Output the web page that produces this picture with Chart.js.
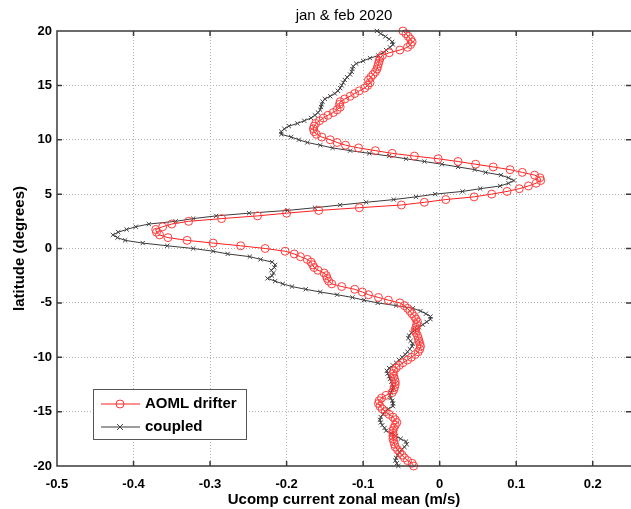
<!doctype html>
<html lang="en">
<head>
	<meta charset="utf-8">
	<title>jan &amp; feb 2020</title>
	<style>
		html, body { margin: 0; padding: 0; background: #fff; }
	</style>
</head>
<body>
	<canvas id="zonalMeanChart" width="631" height="509"></canvas>
	<script src="https://cdn.jsdelivr.net/npm/chart.js@4.4.1/dist/chart.umd.min.js"></script>
	<script>
		// latitude of each profile point, top to bottom (one row per degree)
		var latitude = [
			20, 19.75, 19.5, 19.25,   19, 18.75, 18.5, 18.25,   18, 17.75, 17.5, 17.25,
			17, 16.75, 16.5, 16.25,   16, 15.75, 15.5, 15.25,   15, 14.75, 14.5, 14.25,
			14, 13.75, 13.5, 13.25,   13, 12.75, 12.5, 12.25,   12, 11.75, 11.5, 11.25,
			11, 10.75, 10.5, 10.25,   10, 9.75, 9.5, 9.25,      9, 8.75, 8.5, 8.25,
			8, 7.75, 7.5, 7.25,       7, 6.75, 6.5, 6.25,       6, 5.75, 5.5, 5.25,
			5, 4.75, 4.5, 4.25,       4, 3.75, 3.5, 3.25,       3, 2.75, 2.5, 2.25,
			2, 1.75, 1.5, 1.25,       1, 0.75, 0.5, 0.25,       0, -0.25, -0.5, -0.75,
			-1, -1.25, -1.5, -1.75,   -2, -2.25, -2.5, -2.75,   -3, -3.25, -3.5, -3.75,
			-4, -4.25, -4.5, -4.75,   -5, -5.25, -5.5, -5.75,   -6, -6.25, -6.5, -6.75,
			-7, -7.25, -7.5, -7.75,   -8, -8.25, -8.5, -8.75,   -9, -9.25, -9.5, -9.75,
			-10, -10.25, -10.5, -10.75, -11, -11.25, -11.5, -11.75, -12, -12.25, -12.5, -12.75,
			-13, -13.25, -13.5, -13.75, -14, -14.25, -14.5, -14.75, -15, -15.25, -15.5, -15.75,
			-16, -16.25, -16.5, -16.75, -17, -17.25, -17.5, -17.75, -18, -18.25, -18.5, -18.75,
			-19, -19.25, -19.5, -19.75, -20
		];

		// AOML drifter zonal mean (m/s)
		var aomlDrifter = [
			-0.048, -0.044, -0.041, -0.038,   -0.036, -0.038, -0.042, -0.052,   -0.066, -0.075, -0.078, -0.079,
			-0.080, -0.081, -0.082, -0.084,   -0.087, -0.090, -0.093, -0.091,   -0.094, -0.098, -0.105, -0.111,
			-0.117, -0.124, -0.130, -0.131,   -0.130, -0.134, -0.139, -0.146,   -0.152, -0.157, -0.162, -0.164,
			-0.165, -0.164, -0.161, -0.154,   -0.143, -0.134, -0.123, -0.106,   -0.084, -0.062, -0.033, -0.002,
			0.024, 0.047, 0.070, 0.092,       0.108, 0.124, 0.131, 0.132,       0.126, 0.116, 0.104, 0.088,
			0.068, 0.045, 0.008, -0.020,      -0.050, -0.105, -0.158, -0.200,   -0.238, -0.285, -0.328, -0.350,
			-0.362, -0.371, -0.370, -0.366,   -0.355, -0.330, -0.296, -0.260,   -0.228, -0.202, -0.190, -0.182,
			-0.173, -0.168, -0.166, -0.164,   -0.159, -0.151, -0.148, -0.147,   -0.145, -0.141, -0.128, -0.111,
			-0.101, -0.093, -0.080, -0.067,   -0.052, -0.046, -0.042, -0.039,   -0.036, -0.033, -0.031, -0.029,
			-0.030, -0.031, -0.032, -0.031,   -0.029, -0.028, -0.027, -0.026,   -0.025, -0.026, -0.028, -0.032,
			-0.037, -0.042, -0.048, -0.053,   -0.057, -0.060, -0.061, -0.060,   -0.059, -0.058, -0.058, -0.059,
			-0.060, -0.062, -0.070, -0.076,   -0.079, -0.080, -0.078, -0.075,   -0.071, -0.066, -0.061, -0.058,
			-0.056, -0.058, -0.060, -0.061,   -0.061, -0.061, -0.061, -0.060,   -0.059, -0.058, -0.055, -0.052,
			-0.049, -0.046, -0.042, -0.036,   -0.034
		];

		// coupled model zonal mean (m/s)
		var coupled = [
			-0.082, -0.077, -0.071, -0.066,   -0.062, -0.061, -0.065, -0.070,   -0.074, -0.080, -0.091, -0.100,
			-0.109, -0.113, -0.114, -0.115,   -0.117, -0.121, -0.124, -0.126,   -0.128, -0.130, -0.133, -0.137,
			-0.143, -0.150, -0.153, -0.154,   -0.155, -0.156, -0.159, -0.163,   -0.168, -0.177, -0.186, -0.197,
			-0.203, -0.207, -0.207, -0.194,   -0.184, -0.173, -0.156, -0.140,   -0.117, -0.092, -0.066, -0.044,
			-0.020, 0.003, 0.024, 0.046,      0.060, 0.080, 0.090, 0.097,       0.090, 0.079, 0.053, 0.030,
			-0.006, -0.031, -0.060, -0.096,   -0.130, -0.163, -0.199, -0.249,   -0.292, -0.322, -0.345, -0.380,
			-0.397, -0.409, -0.420, -0.427,   -0.421, -0.411, -0.388, -0.356,   -0.322, -0.296, -0.277, -0.248,
			-0.234, -0.219, -0.215, -0.216,   -0.220, -0.217, -0.219, -0.225,   -0.215, -0.205, -0.193, -0.175,
			-0.156, -0.134, -0.114, -0.099,   -0.081, -0.057, -0.035, -0.025,   -0.018, -0.012, -0.012, -0.017,
			-0.022, -0.027, -0.032, -0.037,   -0.040, -0.041, -0.038, -0.035,   -0.036, -0.039, -0.042, -0.045,
			-0.049, -0.053, -0.057, -0.061,   -0.066, -0.069, -0.068, -0.066,   -0.065, -0.063, -0.062, -0.061,
			-0.062, -0.064, -0.065, -0.064,   -0.062, -0.061, -0.061, -0.067,   -0.071, -0.074, -0.077, -0.078,
			-0.077, -0.075, -0.072, -0.070,   -0.063, -0.057, -0.051, -0.044,   -0.043, -0.046, -0.050, -0.053,
			-0.055, -0.057, -0.058, -0.056,   -0.054
		];

		var xTicks = [-0.5, -0.4, -0.3, -0.2, -0.1, 0, 0.1, 0.2];
		var yTicks = [-20, -15, -10, -5, 0, 5, 10, 15, 20];

		var fontFamily = "'Liberation Sans', Arial, Helvetica, sans-serif";

		function toPoints(values)
		{
			return values.map(function(v, i) { return { x: v, y: latitude[i] }; });
		}

		// MATLAB-like axes lines with inward tick marks (right edge sits on the canvas edge)
		var boxAndTicks = {
			id: 'boxAndTicks',
			afterDatasetsDraw: function(chart)
			{
				var ctx = chart.ctx, a = chart.chartArea;
				var xs = chart.scales.x, ys = chart.scales.y;
				ctx.save();
				ctx.strokeStyle = '#3a3a3a';
				ctx.lineWidth = 1.5;
				ctx.beginPath();
				ctx.moveTo(a.right, a.top); ctx.lineTo(a.left, a.top);
				ctx.lineTo(a.left, a.bottom); ctx.lineTo(a.right, a.bottom);
				xs.ticks.forEach(function(t)
				{
					var px = xs.getPixelForValue(t.value);
					ctx.moveTo(px, a.bottom); ctx.lineTo(px, a.bottom - 5);
					ctx.moveTo(px, a.top); ctx.lineTo(px, a.top + 5);
				});
				ys.ticks.forEach(function(t)
				{
					var py = ys.getPixelForValue(t.value);
					ctx.moveTo(a.left, py); ctx.lineTo(a.left + 5, py);
					ctx.moveTo(a.right, py); ctx.lineTo(a.right - 5, py);
				});
				ctx.stroke();
				ctx.restore();
			}
		};

		// legend box drawn inside the axes, lower left
		var boxLegend = {
			id: 'boxLegend',
			afterDraw: function(chart)
			{
				var ctx = chart.ctx;
				var left = 93, top = 389, width = 153, height = 50;
				ctx.save();
				ctx.fillStyle = '#fff';
				ctx.fillRect(left, top, width, height);
				ctx.strokeStyle = '#555';
				ctx.lineWidth = 1;
				ctx.strokeRect(left + 0.5, top + 0.5, width, height);
				chart.data.datasets.forEach(function(ds, i)
				{
					var y = top + 15 + i * 23;
					ctx.strokeStyle = ds.borderColor;
					ctx.lineWidth = 1;
					ctx.beginPath();
					ctx.moveTo(left + 8, y); ctx.lineTo(left + 47, y);
					ctx.stroke();
					var cx = left + 27;
					ctx.strokeStyle = ds.pointBorderColor;
					ctx.beginPath();
					if (ds.pointStyle === 'circle')
					{
						ctx.arc(cx, y, ds.pointRadius, 0, Math.PI * 2);
					}
					else
					{
						var r = ds.pointRadius;
						ctx.moveTo(cx - r, y - r); ctx.lineTo(cx + r, y + r);
						ctx.moveTo(cx - r, y + r); ctx.lineTo(cx + r, y - r);
					}
					ctx.stroke();
					ctx.fillStyle = '#000';
					ctx.font = 'bold 15px ' + fontFamily;
					ctx.textBaseline = 'middle';
					ctx.fillText(ds.label, left + 52, y);
				});
				ctx.restore();
			}
		};

		var zonalMeanChart = new Chart(
			document.getElementById('zonalMeanChart'),
			{
				type: 'scatter',
				data: {
					datasets: [
						{
							label: 'AOML drifter',
							data: toPoints(aomlDrifter),
							showLine: true,
							borderColor: 'rgb(255,30,30)',
							borderWidth: 1,
							pointStyle: 'circle',
							pointRadius: 4,
							pointBorderColor: 'rgb(255,60,60)',
							pointBackgroundColor: 'rgba(0,0,0,0)',
							pointBorderWidth: 1,
							clip: false
						},
						{
							label: 'coupled',
							data: toPoints(coupled),
							showLine: true,
							borderColor: '#3a3a3a',
							borderWidth: 1,
							pointStyle: 'crossRot',
							pointRadius: 3,
							pointBorderColor: '#444',
							pointBorderWidth: 1,
							clip: false
						}]
				},
				options: {
					responsive: false,
					animation: false,
					devicePixelRatio: 1,
					layout: { autoPadding: false, padding: 0 },
					plugins: {
						legend: { display: false },
						tooltip: { enabled: false },
						title: { display: false }
					},
					scales: {
						// top axis only carries the plot title, centred over the axes
						xTop: {
							type: 'linear',
							axis: 'x',
							position: 'top',
							min: -0.5,
							max: 0.25,
							afterFit: function(axis) { axis.height = 31; },
							ticks: { display: false },
							grid: { display: false, drawTicks: false },
							border: { display: false },
							title: {
								display: true,
								text: 'jan & feb 2020',
								color: '#000',
								font: { family: fontFamily, size: 15, weight: 'normal', lineHeight: 1.2 },
								padding: { top: 7, bottom: 0 }
							}
						},
						x: {
							type: 'linear',
							position: 'bottom',
							min: -0.5,
							max: 0.25,
							afterBuildTicks: function(axis) { axis.ticks = xTicks.map(function(v) { return { value: v }; }); },
							afterFit: function(axis) { axis.height = 43; },
							ticks: {
								color: '#000',
								padding: 11,
								maxRotation: 0,
								font: { family: fontFamily, size: 13, weight: 'bold' },
								callback: function(v) { return v === 0 ? '0' : (Math.round(v * 10) / 10).toFixed(1); }
							},
							grid: {
								drawTicks: false,
								color: function(c) { return (c.tick && c.tick.value === -0.5) ? 'rgba(0,0,0,0)' : '#b4b4b4'; },
								lineWidth: 1
							},
							border: { display: false, dash: [1, 2] },
							title: {
								display: true,
								text: 'Ucomp current zonal mean (m/s)',
								color: '#000',
								font: { family: fontFamily, size: 15, weight: 'bold', lineHeight: 1.2 },
								padding: { top: 0, bottom: 0 }
							}
						},
						y: {
							type: 'linear',
							min: -20,
							max: 20,
							afterBuildTicks: function(axis) { axis.ticks = yTicks.map(function(v) { return { value: v }; }); },
							afterFit: function(axis) { axis.width = 57; },
							ticks: {
								color: '#000',
								padding: 5,
								font: { family: fontFamily, size: 13, weight: 'bold' }
							},
							grid: {
								drawTicks: false,
								color: function(c) { return (c.tick && (c.tick.value === -20 || c.tick.value === 20)) ? 'rgba(0,0,0,0)' : '#b4b4b4'; },
								lineWidth: 1
							},
							border: { display: false, dash: [1, 2] },
							title: {
								display: true,
								text: 'latitude (degrees)',
								color: '#000',
								font: { family: fontFamily, size: 15, weight: 'bold', lineHeight: 1.2 },
								padding: { top: 11, bottom: 0 }
							}
						}
					}
				},
				plugins: [boxAndTicks, boxLegend]
			});
	</script>
</body>
</html>
